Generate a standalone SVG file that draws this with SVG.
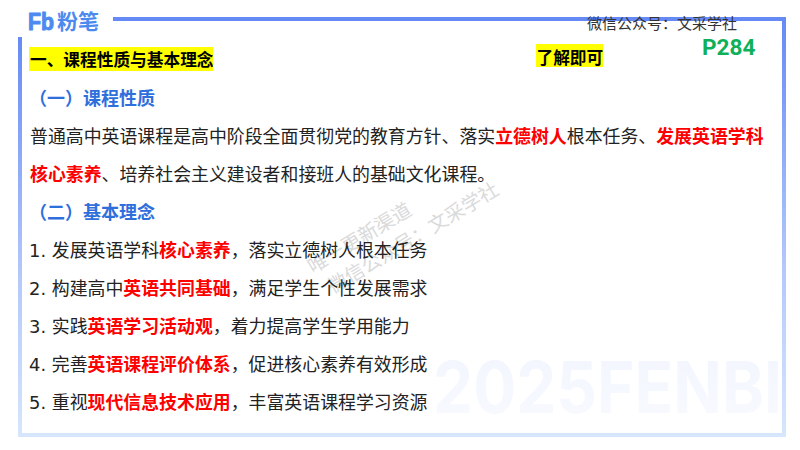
<svg xmlns="http://www.w3.org/2000/svg" width="800" height="450" viewBox="0 0 800 450">
<defs>
<linearGradient id="v" x1="0" y1="0" x2="0" y2="1"><stop offset="0" stop-color="#668af5"/><stop offset="0.6" stop-color="#b4c8fb"/><stop offset="1" stop-color="#d6e6fd"/></linearGradient>
<linearGradient id="wm" x1="0" y1="0" x2="0" y2="1"><stop offset="0" stop-color="#f2f5fe"/><stop offset="1" stop-color="#f8faff"/></linearGradient>
</defs>
<style>
text{font-family:"DejaVu Sans","Noto Sans CJK SC",sans-serif}
.b{font-size:17.900px;fill:#222}
.r{font-weight:700;fill:#fe0000}
.h{font-size:18px;font-weight:700;fill:#2f6fdc}
.k{font-size:16.700px;font-weight:700;fill:#000}
</style>
<rect width="800" height="450" fill="#fff"/>
<g id="frame">
<rect x="113" y="17" width="673" height="4" fill="#668af5"/>
<rect x="782" y="17" width="4" height="420" fill="url(#v)"/>
<rect x="18" y="37" width="4" height="400" fill="url(#v)"/>
<rect x="18" y="433" width="768" height="4" fill="#d6e6fd"/>
</g>
<text id="bgmark" x="433" y="413" font-size="72" font-weight="700" fill="url(#wm)" style="font-family:'Inter',sans-serif" textLength="349" lengthAdjust="spacingAndGlyphs">2025FENBI</text>
<g id="logo">
<text x="28" y="30" font-size="23" font-weight="700" style="font-family:'Liberation Sans',sans-serif" fill="#4d8af0" stroke="#4d8af0" stroke-width="1" stroke-linejoin="round" textLength="26" lengthAdjust="spacingAndGlyphs">Fb</text>
<text x="57" y="29" font-size="21" font-weight="700" style="font-family:'Noto Sans CJK SC',sans-serif" fill="#4d8af0" textLength="42" lengthAdjust="spacingAndGlyphs">粉笔</text>
</g>
<g id="watermark" fill="#dadada" font-size="19.500">
<text transform="translate(313 274) rotate(-31)">唯一更新渠道</text>
<text transform="translate(333 294) rotate(-31)">微信公众号：文采学社</text>
</g>
<g id="title"><rect x="29" y="47" width="184" height="24" fill="#ff0"/><text class="k" x="30" y="65.500">一、课程性质与基本理念</text></g>
<g id="note"><rect x="536" y="44" width="67" height="23" fill="#ff0"/><text class="k" x="536.500" y="63.500">了解即可</text></g>
<g id="wechat"><text x="587" y="28.500" font-size="15" fill="#333">微信公众号：文采学社</text></g>
<g id="page"><text x="702" y="55" font-size="22.600" font-weight="700" fill="#10b058" style="font-family:'Roboto','Liberation Sans',sans-serif">P284</text></g>
<g id="s1"><text class="h" x="29" y="105">（一）课程性质</text></g>
<g id="p1">
<text class="b" x="30" y="143">普通高中英语课程是高中阶段全面贯彻党的教育方针、落实<tspan class="r">立德树人</tspan>根本任务、<tspan class="r">发展英语学科</tspan></text>
<text class="b" x="30" y="181"><tspan class="r">核心素养</tspan>、培养社会主义建设者和接班人的基础文化课程。</text>
</g>
<g id="s2"><text class="h" x="29" y="219">（二）基本理念</text></g>
<g id="items">
<text class="b" x="29" y="257">1. 发展英语学科<tspan class="r">核心素养</tspan>，落实立德树人根本任务</text>
<text class="b" x="29" y="295">2. 构建高中<tspan class="r">英语共同基础</tspan>，满足学生个性发展需求</text>
<text class="b" x="29" y="333">3. 实践<tspan class="r">英语学习活动观</tspan>，着力提高学生学用能力</text>
<text class="b" x="29" y="371">4. 完善<tspan class="r">英语课程评价体系</tspan>，促进核心素养有效形成</text>
<text class="b" x="29" y="409">5. 重视<tspan class="r">现代信息技术应用</tspan>，丰富英语课程学习资源</text>
</g>
</svg>
